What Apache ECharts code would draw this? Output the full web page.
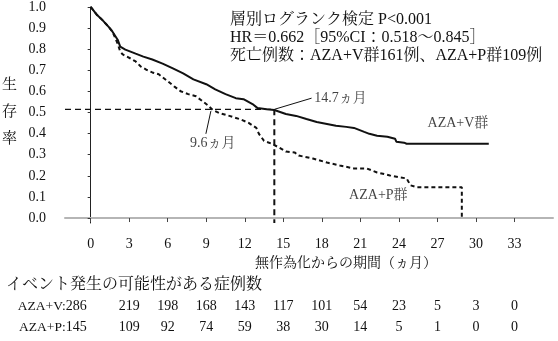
<!DOCTYPE html>
<html>
<head>
<meta charset="utf-8">
<script src="https://cdn.jsdelivr.net/npm/echarts@6/dist/echarts.min.js"></script>
<style>html,body{margin:0;padding:0;background:#fff}#c{width:558px;height:341px}</style>
</head>
<body>
<div id="c"></div>
<script>
// ---- data ----
const monthTicks = [0, 3, 6, 9, 12, 15, 18, 21, 24, 27, 30, 33];
const survTicks = [0, 0.1, 0.2, 0.3, 0.4, 0.5, 0.6, 0.7, 0.8, 0.9, 1.0];

const vTime = [0, 0.1, 0.5, 0.9, 1.4, 1.7, 2.1, 2.3, 2.7, 3.5, 4.1, 4.8, 5.6, 6.4, 7.2, 8.0, 9.0, 9.7, 10.5, 11.3, 11.9, 12.6, 13.0, 13.7, 14.3, 15.2, 16.0, 16.8, 17.6, 18.4, 19.1, 19.9, 20.5, 21.3, 21.7, 22.3, 23.1, 23.7, 23.8, 24.4, 24.6, 31.0];
const vSurv = [1.0, 1.0, 0.962, 0.939, 0.906, 0.883, 0.845, 0.812, 0.798, 0.779, 0.765, 0.751, 0.732, 0.709, 0.685, 0.657, 0.634, 0.610, 0.587, 0.568, 0.563, 0.540, 0.521, 0.516, 0.512, 0.493, 0.484, 0.469, 0.455, 0.446, 0.437, 0.432, 0.427, 0.408, 0.399, 0.390, 0.385, 0.376, 0.362, 0.357, 0.352, 0.352];

const pTime = [0, 0.1, 0.5, 0.9, 1.4, 1.7, 2.1, 2.3, 2.5, 3.1, 3.5, 3.9, 4.3, 4.8, 5.3, 6.0, 6.5, 7.0, 7.6, 8.2, 8.7, 9.1, 9.5, 10.0, 10.8, 11.6, 12.3, 12.9, 13.1, 13.5, 14.1, 14.7, 15.2, 15.9, 16.2, 17.3, 18.4, 19.4, 20.5, 21.5, 22.3, 23.3, 24.1, 24.6, 24.9, 25.4, 28.9, 28.9];
const pSurv = [1.0, 1.0, 0.962, 0.939, 0.906, 0.883, 0.826, 0.789, 0.775, 0.756, 0.742, 0.718, 0.704, 0.690, 0.681, 0.648, 0.624, 0.601, 0.587, 0.577, 0.554, 0.535, 0.512, 0.498, 0.484, 0.469, 0.451, 0.427, 0.399, 0.366, 0.352, 0.333, 0.315, 0.310, 0.296, 0.282, 0.263, 0.249, 0.235, 0.235, 0.216, 0.202, 0.192, 0.188, 0.155, 0.146, 0.146, 0.0];

const riskV = [286, 219, 198, 168, 143, 117, 101, 54, 23, 5, 3, 0];
const riskP = [145, 109, 92, 74, 59, 38, 30, 14, 5, 1, 0, 0];
const riskRowNames = ['AZA+V', 'AZA+P'];

const medianLineTime = 14.3;   // where the dashed median guide is drawn
const medianLevel = 0.515;
const leaderV = [[14.3, 0.515], [17.2, 0.568]];
const leaderP = [[9.36, 0.507], [8.97, 0.399]];
const annotations = [
  { t: 17.4, s: 0.568, text: '14.7ヵ月', align: 'left' },
  { t: 9.5, s: 0.355, text: '9.6ヵ月', align: 'center' },
  { t: 28.6, s: 0.451, text: 'AZA+V群', align: 'center' },
  { t: 22.4, s: 0.108, text: 'AZA+P群', align: 'center' }
];
const statsLines = ['層別ログランク検定 P<0.001', 'HR＝0.662［95%CI：0.518～0.845］', '死亡例数：AZA+V群161例、AZA+P群109例'];

// ---- chart ----
const FONT = '"Liberation Serif", "Noto Serif CJK JP", "Noto Sans CJK JP", serif';
const zip = (a, b) => a.map((x, i) => [x, b[i]]);
const chart = echarts.init(document.getElementById('c'), null, { renderer: 'canvas' });

chart.setOption({
  animation: false,
  backgroundColor: '#fff',
  grid: { left: 65, right: 5, top: 5, bottom: 118 },
  xAxis: {
    type: 'value', min: -2, max: 36,
    axisLine: { show: true, lineStyle: { color: '#b5b5b5', width: 2 } },
    axisTick: { show: true, customValues: monthTicks, length: 4, lineStyle: { color: '#444', width: 1 } },
    axisLabel: { customValues: monthTicks, color: '#111', fontFamily: FONT, fontSize: 14, margin: 14 },
    splitLine: { show: false }
  },
  yAxis: {
    type: 'value', min: -0.0235, max: 1.0,
    axisLine: { show: true, lineStyle: { color: '#222', width: 1 } },
    axisTick: { show: true, customValues: survTicks, length: 3, lineStyle: { color: '#333' } },
    axisLabel: { customValues: survTicks, color: '#111', fontFamily: FONT, fontSize: 14, margin: 19,
      formatter: v => v.toFixed(1) },
    splitLine: { show: false }
  },
  series: [
    { name: 'AZA+V', type: 'line', data: zip(vTime, vSurv), showSymbol: false,
      lineStyle: { color: '#111', width: 2 } },
    { name: 'AZA+P', type: 'line', data: zip(pTime, pSurv), showSymbol: false,
      lineStyle: { color: '#111', width: 2, type: [4, 3] } },
    { name: 'medianH', type: 'line', clip: false, showSymbol: false,
      data: [[-2, medianLevel], [medianLineTime, medianLevel]],
      lineStyle: { color: '#111', width: 1.3, type: [6, 4] } },
    { name: 'medianV', type: 'line', clip: false, showSymbol: false,
      data: [[medianLineTime, medianLevel], [medianLineTime, -0.0235]],
      lineStyle: { color: '#111', width: 2, type: [6, 4] } },
    { name: 'leaderV', type: 'line', showSymbol: false, data: leaderV,
      lineStyle: { color: '#111', width: 1 } },
    { name: 'leaderP', type: 'line', showSymbol: false, data: leaderP,
      lineStyle: { color: '#111', width: 1 } },
    { name: 'notes', type: 'scatter', symbolSize: 0,
      data: annotations.map(a => ({ value: [a.t, a.s], label: { align: a.align } })),
      label: { show: true, position: 'inside', color: '#111', fontFamily: FONT, fontSize: 14,
        formatter: p => annotations[p.dataIndex].text } }
  ]
});

// ---- texts and at-risk table ----
const measure = document.createElement('canvas').getContext('2d');
const g = [];
statsLines.forEach((s, i) => g.push({ type: 'text', left: 230, top: 12 + i * 18,
  style: { text: s, font: '16px ' + FONT, fill: '#111' } }));
g.push({ type: 'text', left: 2, top: 72,
  style: { text: '生\n存\n率', font: '15px ' + FONT, fill: '#111', lineHeight: 27 } });
g.push({ type: 'text', left: 255, top: 256,
  style: { text: '無作為化からの期間（ヵ月）', font: '14px ' + FONT, fill: '#111' } });
g.push({ type: 'text', left: 6, top: 277,
  style: { text: 'イベント発生の可能性がある症例数', font: '16px ' + FONT, fill: '#111' } });
[riskV, riskP].forEach((row, r) => {
  const y = 306 + r * 21;
  row.forEach((n, i) => {
    const x = chart.convertToPixel({ xAxisIndex: 0 }, monthTicks[i]);
    if (i === 0) {
      const numFont = '14px ' + FONT;
      measure.font = numFont;
      const w = measure.measureText(String(n)).width;
      g.push({ type: 'text', x: x - 4, y: y,
        style: { text: String(n), font: numFont, fill: '#111', align: 'right', verticalAlign: 'middle' } });
      g.push({ type: 'text', x: x - 4 - w, y: y,
        style: { text: riskRowNames[r] + ':', font: '13.5px ' + FONT, fill: '#111',
          align: 'right', verticalAlign: 'middle' } });
    } else {
      g.push({ type: 'text', x: x, y: y,
        style: { text: String(n), font: '14px ' + FONT, fill: '#111',
          align: 'center', verticalAlign: 'middle' } });
    }
  });
});
chart.setOption({ graphic: g });
</script>
</body>
</html>
